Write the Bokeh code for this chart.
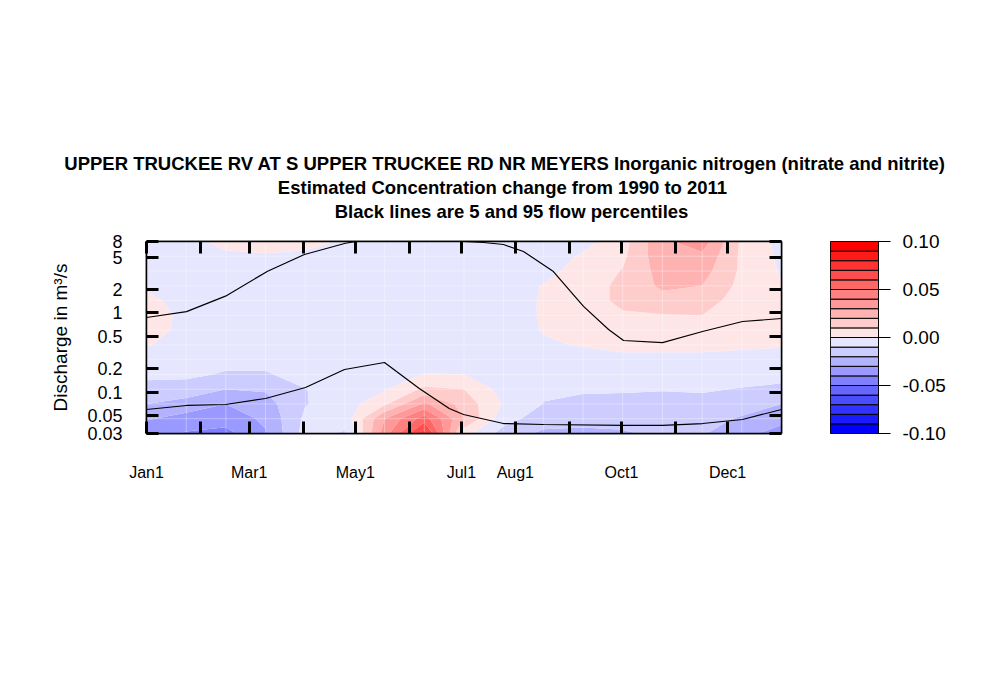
import numpy as np
from bokeh.plotting import figure
from bokeh.layouts import column, row
from bokeh.models import Range1d, FixedTicker, LinearAxis
from bokeh.core.properties import value
from bokeh.embed import file_html
from bokeh.resources import INLINE

# ---------------- data ----------------
title_lines = [
    "UPPER TRUCKEE RV AT S UPPER TRUCKEE RD NR MEYERS  Inorganic nitrogen (nitrate and nitrite)",
    "Estimated Concentration change from 1990 to 2011",
    "Black lines are 5 and 95 flow percentiles",
]
y_axis_title = "Discharge in m\u00b3/s"

month_start_days = [0, 31, 59, 90, 120, 151, 181, 212, 243, 273, 304, 334]
month_labels = {0: "Jan1", 59: "Mar1", 120: "May1", 181: "Jul1", 212: "Aug1", 273: "Oct1", 334: "Dec1"}
days_in_year = 365

q_ticks = [0.03, 0.05, 0.1, 0.2, 0.5, 1, 2, 5, 8]
q_tick_labels = ["0.03", "0.05", "0.1", "0.2", "0.5", "1", "2", "5", "8"]
q_bottom, q_top = 0.03, 8.0

levels = [-0.10, -0.09, -0.08, -0.07, -0.06, -0.05, -0.04, -0.03, -0.02, -0.01, 0.00,
          0.01, 0.02, 0.03, 0.04, 0.05, 0.06, 0.07, 0.08, 0.09, 0.10]
cbar_ticks = [-0.10, -0.05, 0.0, 0.05, 0.10]
cbar_tick_labels = ["-0.10", "-0.05", "0.00", "0.05", "0.10"]

# surface grid: 17 time steps (1/16 year) x 14 log-discharge steps
n_time_steps = 17
n_q_steps = 14

# estimated concentration change, rows from highest discharge (top) to lowest (bottom)
z_row_13 = [-0.004, -0.003, 0.003, 0.004, 0.003, -0.001, -0.005, -0.005, -0.005, -0.006, -0.006, -0.003, 0.006, 0.028, 0.035, 0.008, -0.003]
z_row_12 = [-0.004, -0.005, -0.002, -0.001, -0.002, -0.004, -0.005, -0.005, -0.005, -0.006, -0.004, 0.001, 0.008, 0.027, 0.028, 0.008, -0.002]
z_row_11 = [-0.003, -0.005, -0.004, -0.004, -0.004, -0.005, -0.005, -0.005, -0.005, -0.005, -0.003, 0.004, 0.0105, 0.024, 0.024, 0.008, -0.001]
z_row_10 = [-0.001, -0.004, -0.005, -0.005, -0.005, -0.005, -0.005, -0.005, -0.005, -0.005, 0.0005, 0.006, 0.012, 0.022, 0.020, 0.007, 0.001]
z_row_09 = [0.002, -0.003, -0.005, -0.005, -0.005, -0.005, -0.005, -0.005, -0.005, -0.005, 0.001, 0.006, 0.012, 0.016, 0.014, 0.006, 0.003]
z_row_08 = [0.004, -0.002, -0.005, -0.005, -0.005, -0.005, -0.005, -0.005, -0.005, -0.005, 0.001, 0.005, 0.009, 0.0095, 0.010, 0.005, 0.003]
z_row_07 = [0.003, -0.002, -0.005, -0.005, -0.005, -0.005, -0.005, -0.005, -0.005, -0.005, 0.0005, 0.003, 0.006, 0.006, 0.006, 0.003, 0.002]
z_row_06 = [0.0005, -0.003, -0.005, -0.005, -0.005, -0.005, -0.005, -0.005, -0.005, -0.005, -0.001, 0.0005, 0.002, 0.002, 0.002, 0.001, 0.0005]
z_row_05 = [-0.004, -0.005, -0.007, -0.007, -0.005, -0.005, -0.005, -0.003, -0.004, -0.006, -0.004, -0.003, -0.002, -0.002, -0.002, -0.002, -0.002]
z_row_04 = [-0.008, -0.008, -0.011, -0.011, -0.006, -0.005, -0.004, 0.0003, 0.0, -0.006, -0.007, -0.006, -0.006, -0.006, -0.005, -0.006, -0.007]
z_row_03 = [-0.013, -0.014, -0.020, -0.019, -0.0103, -0.005, -0.001, 0.012, 0.010, -0.004, -0.009, -0.009, -0.009, -0.0095, -0.009, -0.0105, -0.012]
z_row_02 = [-0.020, -0.024, -0.030, -0.024, -0.0105, -0.005, 0.008, 0.032, 0.016, -0.001, -0.0102, -0.012, -0.013, -0.013, -0.013, -0.016, -0.020]
z_row_01 = [-0.029, -0.034, -0.036, -0.028, -0.008, -0.006, 0.030, 0.055, 0.020, -0.006, -0.015, -0.017, -0.017, -0.016, -0.017, -0.021, -0.027]
z_row_00 = [-0.036, -0.041, -0.043, -0.031, -0.006, -0.011, 0.035, 0.075, 0.004, -0.014, -0.022, -0.022, -0.021, -0.018, -0.019, -0.027, -0.034]

# flow percentile lines (day of year, discharge m3/s)
p95_day = [0, 23, 45.4, 69.6, 90.8, 114.4, 136.8, 159.8, 182.2, 193.7, 205.2, 216.7, 233.9, 243.7, 251.2, 265.6, 274.2, 296.6, 319.6, 342.6, 365]
p95_q = [0.877, 1.04, 1.63, 3.37, 5.48, 7.6, 9.2, 9.0, 8.05, 7.77, 7.33, 5.98, 3.34, 1.87, 1.21, 0.618, 0.449, 0.423, 0.583, 0.78, 0.851]
p05_day = [0, 23, 45.4, 68.4, 91.4, 113.8, 136.8, 156.8, 174, 182.2, 205.2, 228.2, 274.2, 296.6, 319.6, 342.6, 365]
p05_q = [0.0603, 0.0678, 0.0698, 0.0831, 0.1144, 0.193, 0.2366, 0.111, 0.0621, 0.0521, 0.0401, 0.039, 0.0379, 0.0379, 0.0401, 0.0451, 0.0603]

# ---------------- styling helpers ----------------
FONT = "Liberation Sans"


def diverging_palette(n_side):
    # blue -> (near) white -> red, pure white omitted in the middle
    blues, reds = [], []
    for i in range(n_side):
        v = int(round(255 * i / n_side))
        blues.append("#%02X%02XFF" % (v, v))
    for i in range(n_side):
        v = int(round(255 * (n_side - 1 - i) / n_side))
        reds.append("#FF%02X%02X" % (v, v))
    return blues + reds


palette = diverging_palette((len(levels) - 1) // 2)

lq_bottom, lq_top = np.log10(q_bottom), np.log10(q_top)
grid_day = np.linspace(0, days_in_year, n_time_steps)
grid_lq = np.linspace(lq_bottom, lq_top, n_q_steps)
z = np.array([z_row_00, z_row_01, z_row_02, z_row_03, z_row_04, z_row_05, z_row_06,
              z_row_07, z_row_08, z_row_09, z_row_10, z_row_11, z_row_12, z_row_13])

TOP = 16
BOTTOM = 60

# ---------------- title figure ----------------
t = figure(width=1000, height=225, x_range=Range1d(0, 1000), y_range=Range1d(225, 0),
           min_border=0, toolbar_location=None, output_backend="svg",
           x_axis_location=None, y_axis_location=None)
t.outline_line_color = None
t.grid.grid_line_color = None
t.text(x=[507, 502, 511], y=[163, 187, 211], text=title_lines,
       text_align="center", text_baseline="middle", text_font=value(FONT),
       text_font_style="bold", text_font_size="18.5px", text_color="black")

# ---------------- main contour figure ----------------
p = figure(frame_width=635, frame_height=192,
           x_range=Range1d(0, days_in_year), y_range=Range1d(lq_bottom, lq_top),
           min_border_left=146, min_border_right=24, min_border_top=TOP, min_border_bottom=BOTTOM,
           toolbar_location=None, output_backend="svg",
           x_axis_location=None, y_axis_location=None)
p.grid.grid_line_color = None
p.outline_line_color = "black"
p.outline_line_width = 1.5

p.contour(x=grid_day, y=grid_lq, z=z, levels=levels, fill_color=palette, line_color=None)

# faint seams of the surface grid
p.segment(x0=grid_day, y0=[lq_bottom] * n_time_steps, x1=grid_day, y1=[lq_top] * n_time_steps,
          line_color="white", line_alpha=0.35, line_width=1)
p.segment(x0=[0] * n_q_steps, y0=grid_lq, x1=[days_in_year] * n_q_steps, y1=grid_lq,
          line_color="white", line_alpha=0.35, line_width=1)

p.line(p95_day, np.log10(p95_q), line_color="black", line_width=1.2)
p.line(p05_day, np.log10(p05_q), line_color="black", line_width=1.2)

q_tick_pos = [float(np.log10(q)) for q in q_ticks]

common = dict(axis_line_color="black", axis_line_width=1.5, major_tick_line_color="black",
              major_tick_line_width=3, minor_tick_line_color=None, major_tick_out=0,
              major_tick_in=12, major_label_text_font=FONT, major_label_text_color="black")

xb = LinearAxis(ticker=FixedTicker(ticks=month_start_days),
                major_label_overrides={d: month_labels.get(d, "") for d in month_start_days},
                major_label_standoff=30, major_label_text_font_size="16px", **common)
p.add_layout(xb, "below")

xt = LinearAxis(ticker=FixedTicker(ticks=month_start_days),
                major_label_overrides={d: "" for d in month_start_days},
                major_label_standoff=0, major_label_text_font_size="16px", **common)
p.add_layout(xt, "above")

yl = LinearAxis(ticker=FixedTicker(ticks=q_tick_pos),
                major_label_overrides={k: lab for k, lab in zip(q_tick_pos, q_tick_labels)},
                major_label_standoff=24, major_label_text_font_size="18px",
                axis_label=y_axis_title, axis_label_text_font=FONT, axis_label_text_color="black",
                axis_label_text_font_size="19px", axis_label_text_font_style="normal",
                axis_label_standoff=13, **common)
p.add_layout(yl, "left")

yr = LinearAxis(ticker=FixedTicker(ticks=q_tick_pos),
                major_label_overrides={k: "" for k in q_tick_pos},
                major_label_standoff=0, major_label_text_font_size="16px", **common)
p.add_layout(yr, "right")

# ---------------- colour key figure ----------------
c = figure(frame_width=48, frame_height=192, x_range=Range1d(0, 1), y_range=Range1d(levels[0], levels[-1]),
           min_border_left=25, min_border_right=97, min_border_top=TOP, min_border_bottom=BOTTOM,
           toolbar_location=None, output_backend="svg",
           x_axis_location=None, y_axis_location=None)
c.grid.grid_line_color = None
c.outline_line_color = "black"
c.outline_line_width = 1
c.quad(left=0, right=1, bottom=levels[:-1], top=levels[1:], fill_color=palette,
       line_color="black", line_width=1)
ca = LinearAxis(ticker=FixedTicker(ticks=cbar_ticks),
                major_label_overrides={k: lab for k, lab in zip(cbar_ticks, cbar_tick_labels)},
                axis_line_color="black", axis_line_width=1, major_tick_line_color="black",
                major_tick_line_width=1, minor_tick_line_color=None, major_tick_out=12,
                major_tick_in=0, major_label_standoff=12, major_label_text_font=FONT,
                major_label_text_color="black", major_label_text_font_size="19px")
c.add_layout(ca, "right")

layout = column(t, row(p, c))
open("out.html", "w").write(file_html(layout, INLINE))
